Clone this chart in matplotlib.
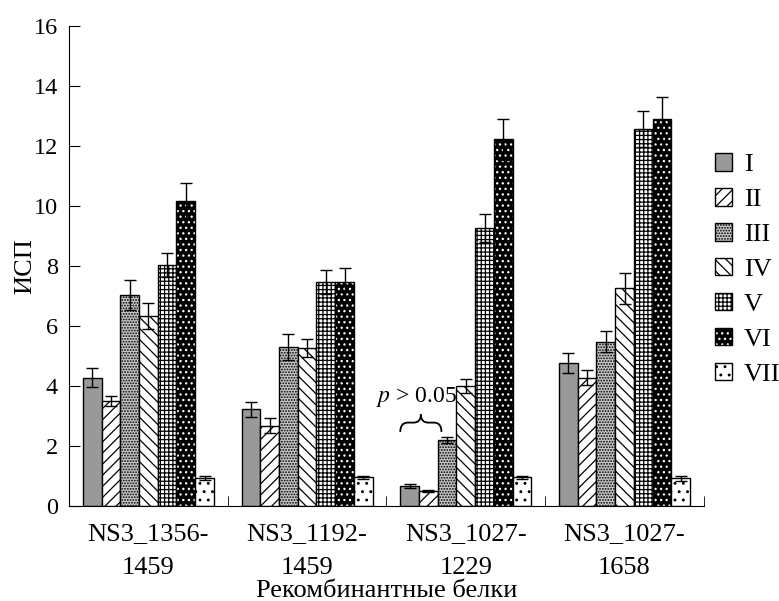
import matplotlib
matplotlib.use('Agg')
import matplotlib.pyplot as plt
import numpy as np
from matplotlib.path import Path
from matplotlib.patches import PathPatch

plt.rcParams['font.family'] = ['Liberation Serif', 'DejaVu Serif']
plt.rcParams['mathtext.fontset'] = 'stix'
plt.rcParams['hatch.linewidth'] = 0.9

groups = ['NS3_1356-\n1459', 'NS3_1192-\n1459', 'NS3_1027-\n1229', 'NS3_1027-\n1658']
series = ['I', 'II', 'III', 'IV', 'V', 'VI', 'VII']

# values per series (one entry per group)
val_I = [4.28, 3.23, 0.67, 4.76]
val_II = [3.51, 2.67, 0.50, 4.28]
val_III = [7.03, 5.29, 2.20, 5.48]
val_IV = [6.33, 5.26, 4.00, 7.26]
val_V = [8.03, 7.46, 9.26, 12.56]
val_VI = [10.15, 7.46, 12.22, 12.89]
val_VII = [0.93, 0.96, 0.96, 0.93]

err_I = [0.33, 0.25, 0.06, 0.33]
err_II = [0.17, 0.25, 0.02, 0.25]
err_III = [0.50, 0.44, 0.09, 0.35]
err_IV = [0.43, 0.31, 0.23, 0.52]
err_V = [0.40, 0.41, 0.47, 0.61]
err_VI = [0.60, 0.46, 0.68, 0.75]
err_VII = [0.06, 0.05, 0.05, 0.08]

values = [val_I, val_II, val_III, val_IV, val_V, val_VI, val_VII]
errors = [err_I, err_II, err_III, err_IV, err_V, err_VI, err_VII]

# face, hatch, hatch colour
styles = [
    ('#999999', None, 'black'),
    ('white', '///', 'black'),
    ('#c8c8c8', '......', 'black'),
    ('white', '\\\\\\', 'black'),
    ('white', '++++', 'black'),
    ('black', '...', 'white'),
    ('white', '..', 'black'),
]

fig = plt.figure(figsize=(7.79, 6.01), dpi=100)
ax = fig.add_axes([0.0886, 0.158, 0.815, 0.799])

x = np.arange(len(groups))
w = 0.118
handles = []
for i, (vals, errs, (fc, hatch, hc)) in enumerate(zip(values, errors, styles)):
    pos = x + (i - 3) * w
    b1 = ax.bar(pos, vals, w, color=fc, edgecolor=hc, hatch=hatch, linewidth=0)
    b2 = ax.bar(pos, vals, w, fill=False, edgecolor='black', linewidth=1.0)
    ax.errorbar(pos, vals, yerr=errs, fmt='none', ecolor='black', elinewidth=1.0,
                capsize=4, capthick=1.0)
    handles.append((b1.patches[0], b2.patches[0]))

ax.set_xlim(-0.5, 3.5)
ax.set_ylim(0, 16)
ax.set_yticks(np.arange(0, 17, 2))
ax.set_xticks(x)
ax.set_xticklabels(groups, fontsize=19, linespacing=1.75)
ax.set_xticks(np.arange(0.5, 4, 1), minor=True)
ax.tick_params(axis='x', which='major', length=0, pad=12)
ax.tick_params(axis='x', which='minor', direction='in', length=7)
ax.tick_params(axis='y', direction='in', length=8, labelsize=17.5, pad=8)
for s in ['top', 'right']:
    ax.spines[s].set_visible(False)

ax.set_ylabel('ИСП', fontsize=19)
ax.yaxis.set_label_coords(-0.052, 0.5)
ax.set_xlabel('Рекомбинантные белки', fontsize=19)
ax.xaxis.set_label_coords(0.5, -0.155)

# brace over bars I and II of the third group
gx = x[2]
x0 = gx - 3.5 * w
x1 = gx - 1.3 * w
xm = (x0 + x1) / 2
ylo, ymid, yhi = 2.47, 2.78, 3.05
q = (x1 - x0) * 0.18
verts = [(x0, ylo), (x0, ymid), (x0 + q, ymid),
         (xm - q, ymid), (xm, ymid), (xm, yhi),
         (xm, ymid), (xm + q, ymid),
         (x1 - q, ymid), (x1, ymid), (x1, ylo)]
codes = [Path.MOVETO, Path.CURVE3, Path.CURVE3,
         Path.LINETO, Path.CURVE3, Path.CURVE3,
         Path.CURVE3, Path.CURVE3,
         Path.LINETO, Path.CURVE3, Path.CURVE3]
ax.add_patch(PathPatch(Path(verts, codes), fill=False, edgecolor='black', linewidth=1.3))
ax.text(xm - 0.03, 3.22, '$p$ > 0.05', fontsize=17, ha='center', va='bottom')

ax.legend(handles, series, loc='upper left', bbox_to_anchor=(715 / 779, 1 - 153 / 601),
          bbox_transform=fig.transFigure, frameon=False, fontsize=19,
          handlelength=0.65, handleheight=0.65, labelspacing=0.45, handletextpad=0.45,
          borderpad=0, borderaxespad=0)

fig.savefig('out.png', dpi=100)
